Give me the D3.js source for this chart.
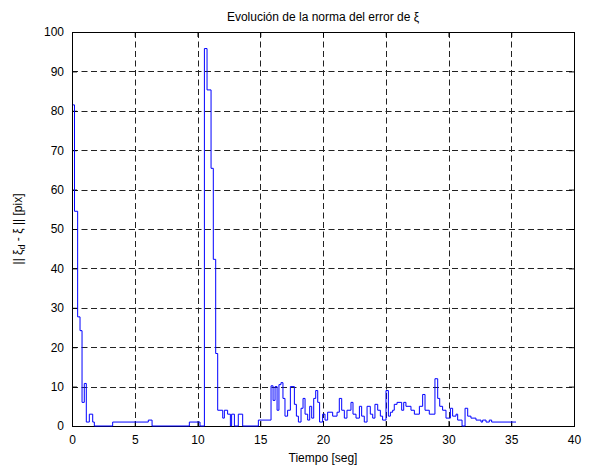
<!DOCTYPE html>
<html>
<head>
<meta charset="utf-8">
<script src="https://cdn.jsdelivr.net/npm/d3@7"></script>
<style>
  body { margin: 0; background: #fff; }
  svg { font-family: "Liberation Sans", Arial, sans-serif; }
</style>
</head>
<body>
<svg id="chart" width="590" height="470"></svg>
<script>
// step start times [seg] and the error norm held from each one [pix]
var times = [0, 0.12, 0.37, 0.56, 0.72, 0.9, 1.06, 1.3, 1.57, 1.7, 3.16, 6.0, 6.3,
  9.27, 10.12, 10.47, 10.68, 11.0, 11.18, 11.37, 11.53, 11.93, 12.06, 12.32, 12.54,
  12.64, 12.86, 13.17, 13.52, 14.77, 15.78, 15.94, 16.10, 16.26, 16.41, 16.57, 16.73,
  16.89, 17.10, 17.32, 17.64, 17.80, 17.96, 18.17, 18.33, 18.49, 18.70, 18.86, 19.02,
  19.18, 19.34, 19.50, 19.65, 19.89, 20.08, 20.29, 20.69, 21.04, 21.22, 21.41, 21.62,
  21.83, 22.15, 22.31, 22.55, 22.82, 23.0, 23.21, 23.43, 23.69, 23.88, 24.06, 24.28,
  24.49, 24.67, 24.94, 25.13, 25.29, 25.47, 25.6, 25.82, 26.19, 26.35, 26.53, 26.93,
  27.2, 27.6, 27.86, 28.05, 28.39, 28.84, 29.06, 29.22, 29.45, 29.72, 30.07, 30.25,
  30.52, 30.65, 31.0, 31.24, 31.45, 31.71, 32.11, 32.51, 32.64, 32.91, 33.17, 33.36,
  35.3];
var values = [81.5, 54.5, 27.7, 24.2, 6, 10.8, 1, 3, 1, 0, 1, 1.5, 0,
  1, 0, 95.8, 85.3, 65.4, 42.3, 18.4, 4, 2, 4, 3, 0,
  3, 0, 3, 0, 1.5, 10.2, 6.5, 10, 4, 10.5, 11, 7,
  2.5, 4, 10, 5.5, 2.5, 1, 4.5, 7, 3, 1.5, 5, 2,
  7, 9, 6, 1, 3, 1.5, 3.5, 2.5, 3.5, 7, 4, 2,
  4, 6, 3, 2, 5, 2.5, 1, 5, 3, 2, 5.5, 4,
  2.5, 1.5, 9, 2.5, 3.5, 4, 5.5, 6, 4, 6, 5, 4,
  3, 5, 8, 4, 3, 12, 7, 5, 4, 2, 4.5, 2.5,
  3, 1.5, 0, 4.5, 2.5, 2, 1.5, 1, 1.5, 1, 1.5, 1,
  1];

var xTicks = [0, 5, 10, 15, 20, 25, 30, 35, 40];
var yTicks = [0, 10, 20, 30, 40, 50, 60, 70, 80, 90, 100];

var svg = d3.select("#chart"),
    margin = {top: 32, right: 16, bottom: 44, left: 72},
    width = +svg.attr("width") - margin.left - margin.right,
    height = +svg.attr("height") - margin.top - margin.bottom,
    g = svg.append("g").attr("transform", "translate(" + margin.left + "," + margin.top + ")");

var x = d3.scaleLinear().domain([0, 40]).range([0, width]);
var y = d3.scaleLinear().domain([0, 100]).range([height, 0]);

var data = times.map(function(t, i) { return {t: t, v: values[i]}; });

// dashed grid
g.append("g")
  .selectAll("line")
  .data(xTicks.slice(1, -1))
  .enter().append("line")
    .attr("x1", function(d) { return Math.round(x(d)) + 0.5; })
    .attr("x2", function(d) { return Math.round(x(d)) + 0.5; })
    .attr("y1", 0)
    .attr("y2", height)
    .attr("stroke", "#222")
    .attr("stroke-dasharray", "6,3.5");

g.append("g")
  .selectAll("line")
  .data(yTicks.slice(1, -1))
  .enter().append("line")
    .attr("y1", function(d) { return Math.round(y(d)) + 0.5; })
    .attr("y2", function(d) { return Math.round(y(d)) + 0.5; })
    .attr("x1", 0)
    .attr("x2", width)
    .attr("stroke", "#222")
    .attr("stroke-dasharray", "6,3.5");

// axes, ticks pointing inward on all four sides
function styleAxis(sel) {
  sel.select(".domain").remove();
  sel.selectAll("text").attr("font-size", 12).attr("fill", "#000")
     .attr("font-family", "'Liberation Sans', Arial, sans-serif");
  sel.selectAll("line").attr("stroke", "#000");
}

g.append("g")
    .attr("transform", "translate(0," + height + ")")
    .call(d3.axisBottom(x).tickValues(xTicks).tickSizeInner(-5).tickPadding(9))
    .call(styleAxis);

g.append("g")
    .call(d3.axisTop(x).tickValues(xTicks).tickSizeInner(-5).tickFormat(""))
    .call(styleAxis);

g.append("g")
    .call(d3.axisLeft(y).tickValues(yTicks).tickSizeInner(-5).tickPadding(8))
    .call(styleAxis);

g.append("g")
    .attr("transform", "translate(" + width + ",0)")
    .call(d3.axisRight(y).tickValues(yTicks).tickSizeInner(-5).tickFormat(""))
    .call(styleAxis);

g.append("rect")
    .attr("x", 0.5)
    .attr("y", 0.5)
    .attr("width", width)
    .attr("height", height)
    .attr("fill", "none")
    .attr("stroke", "#000");

// the signal, drawn over the frame so the first sample stays visible
var line = d3.line()
    .x(function(d) { return x(d.t) + 1; })
    .y(function(d) { return y(d.v); })
    .curve(d3.curveStepAfter);

g.append("path")
    .datum(data)
    .attr("fill", "none")
    .attr("stroke", "#0000ff")
    .attr("stroke-width", 1)
    .attr("d", line);

// labels
svg.append("text")
    .attr("x", margin.left + width / 2)
    .attr("y", 21)
    .attr("text-anchor", "middle")
    .attr("font-size", 12)
    .text("Evolución de la norma del error de ξ");

svg.append("text")
    .attr("x", margin.left + width / 2)
    .attr("y", 462)
    .attr("text-anchor", "middle")
    .attr("font-size", 12)
    .text("Tiempo [seg]");

var yl = svg.append("text")
    .attr("transform", "translate(22," + (margin.top + height / 2) + ") rotate(-90)")
    .attr("text-anchor", "middle")
    .attr("font-size", 12);
yl.append("tspan").text("|| ξ");
yl.append("tspan").attr("font-size", 9).attr("dy", 3).text("d");
yl.append("tspan").attr("dy", -3).text(" - ξ || [pix]");
</script>
</body>
</html>
